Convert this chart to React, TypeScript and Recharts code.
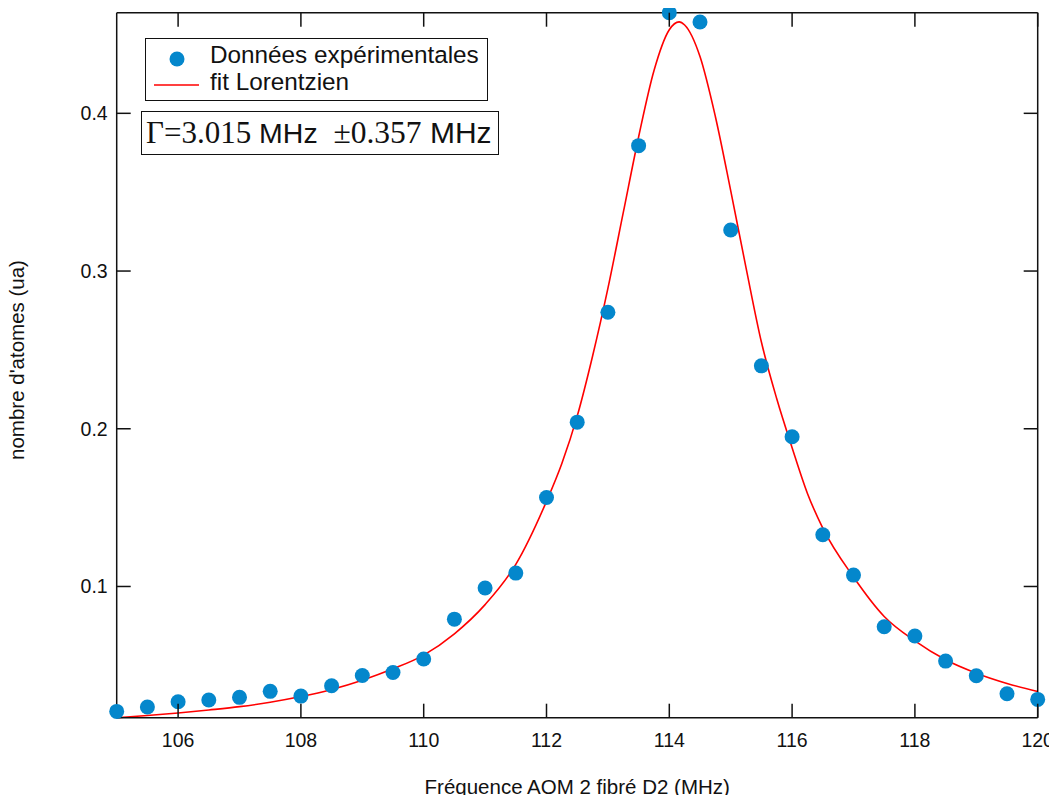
import React from 'react';
import { ComposedChart, Scatter, Line, XAxis, YAxis, Legend } from 'recharts';

// Experimental data (frequency in MHz, atom number in a.u.)
const dataFreq = [105, 105.5, 106, 106.5, 107, 107.5, 108, 108.5, 109, 109.5, 110, 110.5, 111, 111.5, 112, 112.5, 113, 113.5, 114, 114.5, 115, 115.5, 116, 116.5, 117, 117.5, 118, 118.5, 119, 119.5, 120];
const dataAtoms = [0.0208, 0.0236, 0.0269, 0.028, 0.0297, 0.0335, 0.0305, 0.0371, 0.0436, 0.0455, 0.054, 0.0793, 0.099, 0.1085, 0.1564, 0.2042, 0.2739, 0.3795, 0.4638, 0.4579, 0.326, 0.2399, 0.1949, 0.1328, 0.1072, 0.0745, 0.0686, 0.0527, 0.0434, 0.032, 0.0284];

// Lorentzian fit curve
const fitFreq = [105, 105.5, 106, 106.5, 107, 107.5, 108, 108.5, 109, 109.5, 110, 110.5, 111, 111.5, 112, 112.25, 112.5, 112.75, 113, 113.25, 113.5, 113.75, 114, 114.16, 114.25, 114.5, 114.75, 115, 115.25, 115.5, 115.75, 116, 116.25, 116.5, 117, 117.5, 118, 118.5, 119, 119.5, 120];
const fitAtoms = [0.0168, 0.0182, 0.0198, 0.0217, 0.0238, 0.0266, 0.0302, 0.0347, 0.0406, 0.0478, 0.0565, 0.07, 0.0885, 0.114, 0.154, 0.178, 0.208, 0.246, 0.289, 0.337, 0.385, 0.427, 0.453, 0.458, 0.456, 0.436, 0.398, 0.351, 0.302, 0.255, 0.219, 0.188, 0.159, 0.137, 0.106, 0.081, 0.0655, 0.0535, 0.045, 0.0385, 0.0334];

const xTicks = [106, 108, 110, 112, 114, 116, 118, 120];
const yTicks = [0.1, 0.2, 0.3, 0.4];
const xDomain = [105, 120];
const yDomain = [0.0168, 0.4638];
const seriesNames = ['Données expérimentales', 'fit Lorentzien'];
const xTitle = 'Fréquence AOM 2 fibré D2 (MHz)';
const yTitle = "nombre d'atomes (ua)";
const gammaParts = ['Γ=3.015', ' MHz ', ' ±0.357', ' MHz'];

const points = dataFreq.map((f, i) => ({ f, n: dataAtoms[i] }));
const fit = fitFreq.map((f, i) => ({ f, n: fitAtoms[i] }));

const AXIS = '#111';
const BLUE = '#0487cc';
const RED = '#ff0000';
const SANS = '"Liberation Sans", Arial, sans-serif';
const SERIF = '"Liberation Serif", "Times New Roman", serif';
const TICK_LEN = 14;

const BottomTick = (props: any) => {
  const { x, y, payload } = props;
  return (
    <g>
      <line x1={x} x2={x} y1={y} y2={y - TICK_LEN} stroke={AXIS} strokeWidth={1.5} />
      <text x={x} y={y + 29} textAnchor="middle" fontFamily={SANS} fontSize={19.5} fill={AXIS}>
        {payload.value}
      </text>
    </g>
  );
};

const TopTick = (props: any) => {
  const { x, y } = props;
  return <line x1={x} x2={x} y1={y} y2={y + TICK_LEN} stroke={AXIS} strokeWidth={1.5} />;
};

const LeftTick = (props: any) => {
  const { x, y, payload } = props;
  return (
    <g>
      <line x1={x} x2={x + TICK_LEN} y1={y} y2={y} stroke={AXIS} strokeWidth={1.5} />
      <text x={x - 9} y={y + 7} textAnchor="end" fontFamily={SANS} fontSize={19.5} fill={AXIS}>
        {payload.value}
      </text>
    </g>
  );
};

const RightTick = (props: any) => {
  const { x, y } = props;
  return <line x1={x} x2={x - TICK_LEN} y1={y} y2={y} stroke={AXIS} strokeWidth={1.5} />;
};

const LegendBoxes = () => (
  <div style={{ position: 'relative', width: 0, height: 0 }}>
    <div
      style={{
        position: 'absolute',
        left: 145,
        top: 38.3,
        width: 342.7,
        height: 62.4,
        boxSizing: 'border-box',
        border: `1.5px solid ${AXIS}`,
        background: '#fff',
        fontFamily: SANS,
        fontSize: 24.3,
        color: AXIS,
      }}
    >
      <svg width={60} height={60} style={{ position: 'absolute', left: 0, top: 0 }}>
        <circle cx={31} cy={20} r={7.5} fill={BLUE} />
        <line x1={8} x2={53} y1={46} y2={46} stroke={RED} strokeWidth={1.6} />
      </svg>
      <div style={{ position: 'absolute', left: 64, top: 2, whiteSpace: 'nowrap', lineHeight: '27px' }}>
        {seriesNames[0]}
      </div>
      <div style={{ position: 'absolute', left: 64, top: 29, whiteSpace: 'nowrap', lineHeight: '27px' }}>
        {seriesNames[1]}
      </div>
    </div>
    <div
      style={{
        position: 'absolute',
        left: 141,
        top: 110.7,
        width: 358.3,
        height: 44.3,
        boxSizing: 'border-box',
        border: `1.5px solid ${AXIS}`,
        background: '#fff',
        color: AXIS,
        whiteSpace: 'pre',
        display: 'flex',
        alignItems: 'center',
        paddingLeft: 4,
        lineHeight: '40px',
      }}
    >
      <span style={{ fontFamily: SERIF, fontSize: 31 }}>{gammaParts[0]}</span>
      <span style={{ fontFamily: SANS, fontSize: 28.5 }}>{gammaParts[1]}</span>
      <span style={{ fontFamily: SERIF, fontSize: 31.5 }}>{gammaParts[2]}</span>
      <span style={{ fontFamily: SANS, fontSize: 30 }}>{gammaParts[3]}</span>
    </div>
  </div>
);

const XTitle = (props: any) => {
  const { viewBox } = props;
  const cx = viewBox.x + viewBox.width / 2;
  return (
    <text x={cx} y={viewBox.y + 76} textAnchor="middle" fontFamily={SANS} fontSize={20.5} fill={AXIS}>
      {xTitle}
    </text>
  );
};

const YTitle = () => {
  const cy = 360;
  const bx = 24;
  return (
    <text
      x={bx}
      y={cy}
      transform={`rotate(-90 ${bx} ${cy})`}
      textAnchor="middle"
      fontFamily={SANS}
      fontSize={20.5}
      fill={AXIS}
    >
      {yTitle}
    </text>
  );
};

export default function App() {
  return (
    <div style={{ width: 1057, height: 803, position: 'relative', margin: -8 }}>
      <ComposedChart
        width={1057}
        height={803}
        margin={{ top: 11.7, right: 18.3, left: 0, bottom: 0 }}
        style={{ background: '#fff' }}
      >
        <XAxis
          xAxisId="bottom"
          dataKey="f"
          type="number"
          domain={xDomain}
          ticks={xTicks}
          orientation="bottom"
          height={85.3}
          tickSize={0}
          tickMargin={0}
          tickLine={false}
          tick={<BottomTick />}
          axisLine={{ stroke: AXIS, strokeWidth: 1.5 }}
          label={<XTitle />}
        />
        <XAxis
          xAxisId="top"
          dataKey="f"
          type="number"
          domain={xDomain}
          allowDataOverflow
          ticks={xTicks}
          orientation="top"
          height={1}
          tickSize={0}
          tickMargin={0}
          tickLine={false}
          tick={<TopTick />}
          interval={0}
          axisLine={{ stroke: AXIS, strokeWidth: 1.5 }}
        />
        <YAxis
          yAxisId="left"
          type="number"
          domain={yDomain}
          ticks={yTicks}
          orientation="left"
          width={116.7}
          tickSize={0}
          tickMargin={0}
          tickLine={false}
          tick={<LeftTick />}
          axisLine={{ stroke: AXIS, strokeWidth: 1.5 }}
          label={<YTitle />}
        />
        <YAxis
          yAxisId="right"
          type="number"
          domain={yDomain}
          allowDataOverflow
          ticks={yTicks}
          orientation="right"
          width={1}
          tickSize={0}
          tickMargin={0}
          tickLine={false}
          tick={<RightTick />}
          interval={0}
          axisLine={{ stroke: AXIS, strokeWidth: 1.5 }}
        />
        <Line
          xAxisId="bottom"
          yAxisId="left"
          data={fit}
          dataKey="n"
          name={seriesNames[1]}
          type="monotone"
          stroke={RED}
          strokeWidth={1.6}
          dot={false}
          activeDot={false}
          isAnimationActive={false}
        />
        <Scatter
          xAxisId="bottom"
          yAxisId="left"
          data={points}
          dataKey="n"
          name={seriesNames[0]}
          fill={BLUE}
          shape={(p: any) => <circle cx={p.cx} cy={p.cy} r={7.5} fill={BLUE} />}
          isAnimationActive={false}
        />
        <Legend
          content={<LegendBoxes />}
          layout="horizontal"
          verticalAlign="top"
          wrapperStyle={{ position: 'absolute', left: 0, top: 0, width: 0, height: 0 }}
        />
      </ComposedChart>
    </div>
  );
}
